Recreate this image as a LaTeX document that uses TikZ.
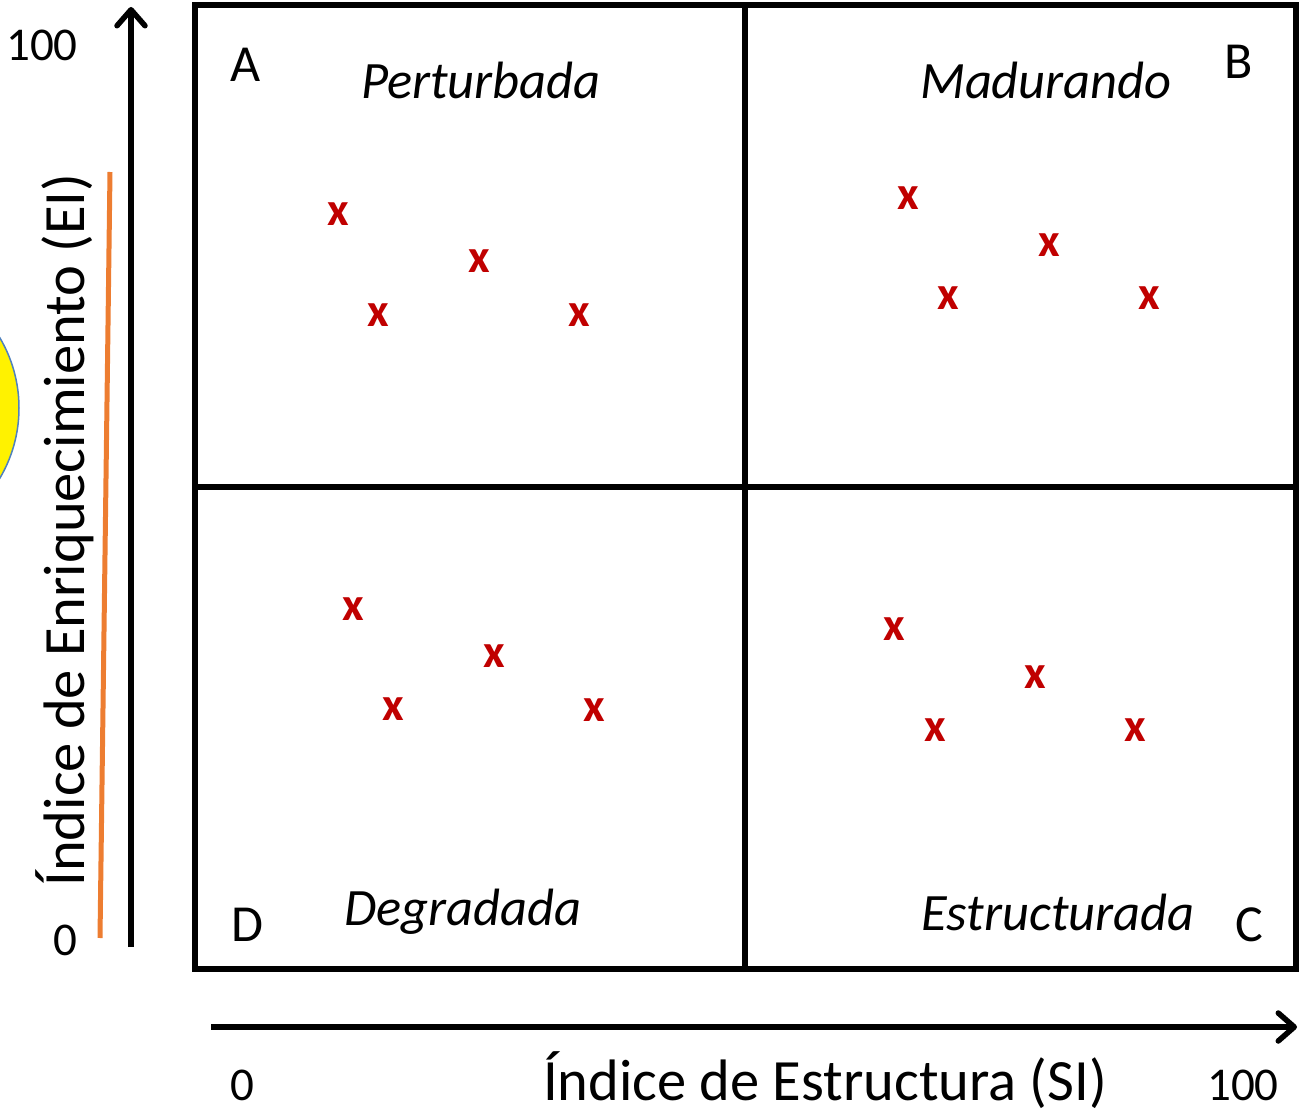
\documentclass[tikz,border=0pt]{standalone}
\usepackage{fontspec}
\setmainfont{Carlito}
\usetikzlibrary{arrows.meta}
\definecolor{xred}{HTML}{C00000}
\definecolor{orangeline}{HTML}{ED7D31}
\definecolor{circborder}{HTML}{4F81BD}
\tikzset{
  axis/.style={line width=5.5pt, -{Straight Barb[length=16pt,width=28pt,line width=5.5pt,round]}},
  frame/.style={line width=5.5pt},
  xm/.style={text=xred, font=\fontsize{47}{47}\selectfont\bfseries, inner sep=0pt},
  qlabel/.style={font=\fontsize{52.5}{52.5}\selectfont\itshape, inner sep=0pt},
  corner/.style={font=\fontsize{52}{52}\selectfont, inner sep=0pt},
  num/.style={font=\fontsize{47}{47}\selectfont, inner sep=0pt},
  axlabel/.style={font=\fontsize{58.5}{58.5}\selectfont, inner sep=0pt}
}
\begin{document}
\begin{tikzpicture}[x=1pt,y=-1pt]
\useasboundingbox (0,0) rectangle (1299,1115);
% yellow circle, clipped at picture edge
\begin{scope}
\clip (0,0) rectangle (1299,1115);
\node[circle, draw=circborder, line width=1.5pt, fill=yellow, minimum size=276pt, inner sep=0pt] (sun) at (-119,408) {};
\end{scope}
% frame
\coordinate (tl) at (195,5);
\coordinate (br) at (1296,969);
\draw[frame] (tl) rectangle (br);
\coordinate (vt) at (745,5);
\coordinate (vb) at (745,969);
\coordinate (hl) at (195,487);
\coordinate (hr) at (1296,487);
\draw[frame] (vt) -- (vb);
\draw[frame] (hl) -- (hr);
% axes
\coordinate (y0) at (131,947);
\coordinate (y1) at (131,7);
\draw[axis] (y0) -- (y1);
\coordinate (x0) at (211,1027);
\coordinate (x1) at (1297,1027);
\draw[axis] (x0) -- (x1);
% orange line
\coordinate (o0) at (100,938);
\coordinate (o1) at (110,172);
\draw[orangeline, line width=5pt] (o0) -- (o1);
% numbers
\node[num] (n100y) at (42,45) {100};
\node[num] (n0y) at (65,940) {0};
\node[num] (n0x) at (242,1085) {0};
\node[num] (n100x) at (1243,1085) {100};
% axis labels
\node[axlabel] (si) at (825,1080) {Índice de Estructura (SI)};
\node[axlabel, rotate=90] (ei) at (65,530) {Índice de Enriquecimiento (EI)};
% corner letters
\node[corner] (A) at (246,65) {A};
\node[corner] (B) at (1239,62) {B};
\node[corner] (D) at (247,925) {D};
\node[corner] (C) at (1249,925) {C};
% quadrant labels
\node[qlabel] (pert) at (481,80) {Perturbada};
\node[qlabel] (madu) at (1046,80) {Madurando};
\node[qlabel] (degr) at (463,912) {Degradada};
\node[qlabel] (estr) at (1058,912) {Estructurada};
% marks
\foreach \p [count=\i] in {(338,214),(378,315),(479,261),(579,315),
  (908,198),(948,298),(1049,245),(1149,298),
  (353,609),(393,709),(494,656),(594,710),
  (894,629),(935,730),(1035,677),(1135,730)}
  \node[xm] (m\i) at \p {x};
\end{tikzpicture}
\end{document}
